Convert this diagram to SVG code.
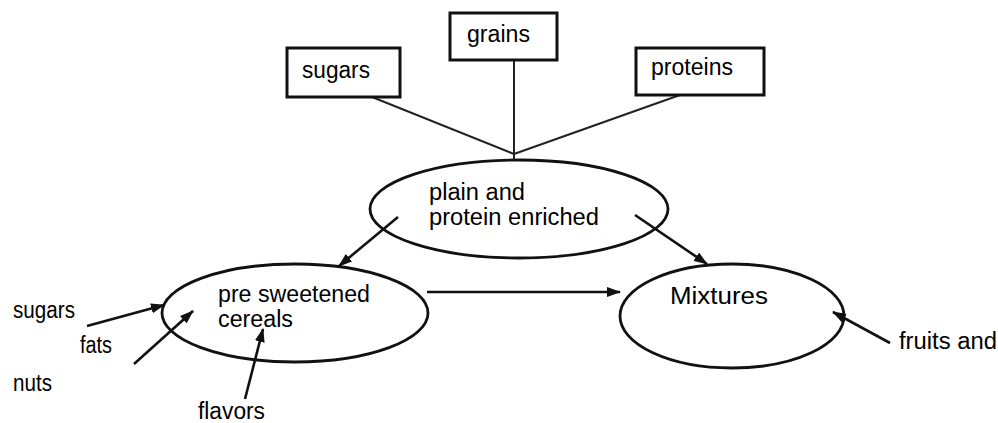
<svg xmlns="http://www.w3.org/2000/svg" width="998" height="423" viewBox="0 0 998 423">
<defs>
<marker id="ah" markerUnits="userSpaceOnUse" markerWidth="14" markerHeight="10" refX="13" refY="5" orient="auto">
<path d="M0,0 L14,5 L0,10 Z" fill="#111"/>
</marker>
<style>
.box{fill:#fff;stroke:#111;stroke-width:3}
.ell{fill:none;stroke:#111;stroke-width:2.8}
.ln{fill:none;stroke:#222;stroke-width:2}
.arr{fill:none;stroke:#111;stroke-width:2.6;marker-end:url(#ah)}
text{font-family:"Liberation Sans",Arial,sans-serif;font-size:23px;fill:#000}
</style>
</defs>
<rect width="998" height="423" fill="#fff"/>
<g id="connectors">
<line class="ln" x1="367" y1="95" x2="514" y2="154"/>
<line class="ln" x1="514" y1="60" x2="514" y2="160"/>
<line class="ln" x1="680" y1="95" x2="514" y2="154"/>
<line class="arr" x1="398" y1="217" x2="339" y2="266"/>
<line class="arr" x1="635" y1="215" x2="707" y2="264"/>
<line class="arr" x1="427" y1="292" x2="620" y2="292"/>
<line class="arr" x1="87" y1="326" x2="164" y2="305"/>
<line class="arr" x1="134" y1="364" x2="193" y2="311"/>
<line class="arr" x1="245" y1="399" x2="263" y2="329"/>
<line class="arr" x1="890" y1="343" x2="833" y2="312"/>
</g>
<g id="sugars-box"><rect class="box" x="287" y="48" width="113" height="49"/><text x="302" y="78" textLength="68" lengthAdjust="spacingAndGlyphs">sugars</text></g>
<g id="grains-box"><rect class="box" x="450" y="13" width="107" height="47"/><text x="467" y="42" textLength="63" lengthAdjust="spacingAndGlyphs">grains</text></g>
<g id="proteins-box"><rect class="box" x="636" y="48" width="128" height="47"/><text x="651" y="75" textLength="82" lengthAdjust="spacingAndGlyphs">proteins</text></g>
<g id="plain"><ellipse class="ell" cx="519" cy="209" rx="149" ry="49"/><text x="429" y="200" textLength="96" lengthAdjust="spacingAndGlyphs">plain and</text><text x="429" y="225" textLength="170" lengthAdjust="spacingAndGlyphs">protein enriched</text></g>
<g id="presweetened"><ellipse class="ell" cx="295" cy="313" rx="133" ry="49"/><text x="218" y="302" textLength="152" lengthAdjust="spacingAndGlyphs">pre sweetened</text><text x="218" y="327" textLength="75" lengthAdjust="spacingAndGlyphs">cereals</text></g>
<g id="mixtures"><ellipse class="ell" cx="732" cy="316" rx="112" ry="52"/><text x="670" y="304" textLength="98" lengthAdjust="spacingAndGlyphs">Mixtures</text></g>
<g id="lbl-sugars"><text x="13" y="318" textLength="62" lengthAdjust="spacingAndGlyphs">sugars</text></g>
<g id="lbl-fats"><text x="80" y="353" textLength="32" lengthAdjust="spacingAndGlyphs">fats</text></g>
<g id="lbl-nuts"><text x="13" y="391" textLength="39" lengthAdjust="spacingAndGlyphs">nuts</text></g>
<g id="lbl-flavors"><text x="198" y="419" textLength="67" lengthAdjust="spacingAndGlyphs">flavors</text></g>
<g id="lbl-fruits"><text x="899" y="349" textLength="98" lengthAdjust="spacingAndGlyphs">fruits and</text></g>
</svg>
